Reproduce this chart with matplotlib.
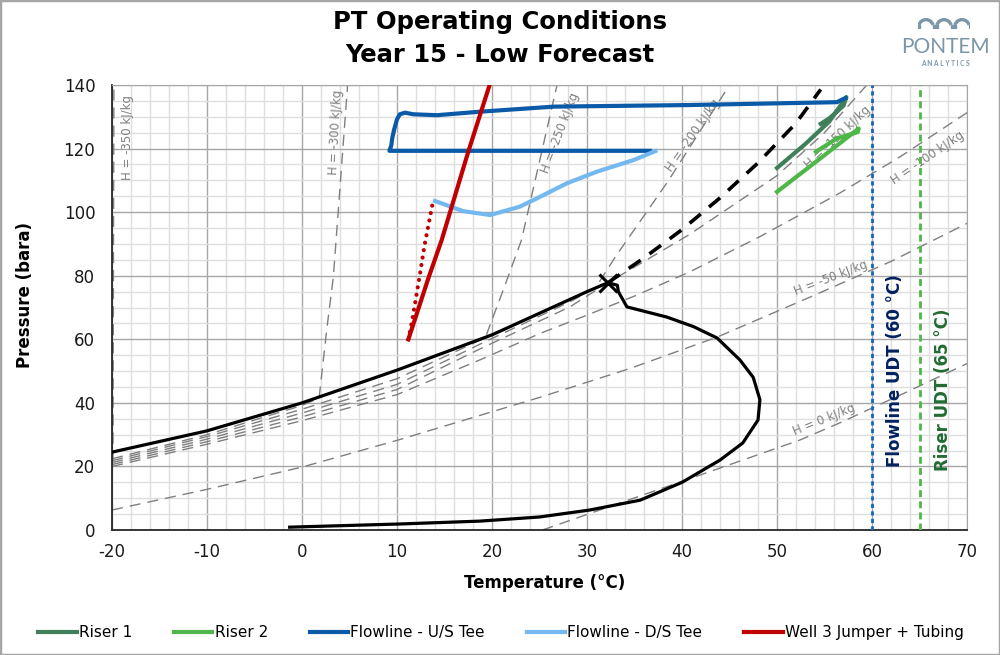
import numpy as np
import matplotlib
matplotlib.use("Agg")
import matplotlib.pyplot as plt
from matplotlib.patches import Rectangle, Arc
from matplotlib.ticker import MultipleLocator

# --------------------------------------------------
# data
# --------------------------------------------------
# phase envelope: bubble side -> critical point -> dew side
env_t = [-20, -10, 0, 10, 20, 30, 32.2, 33.2, 33.3, 34.2, 38.4, 41.2, 43.7,
         46.1, 47.5, 48.2, 48.0, 46.4, 44.0, 40.0, 35.6, 30.3, 25.0, 18.7,
         10.3, -1.3]
env_p = [24.5, 31.2, 40.0, 50.3, 61.4, 75.0, 77.8, 77.0, 75.0, 70.2, 67.0,
         64.0, 60.4, 53.5, 48.0, 41.0, 34.6, 27.4, 22.0, 15.0, 9.4, 6.3, 4.1,
         2.8, 1.9, 0.9]
crit_t, crit_p = 32.2, 77.8

# dense phase extension above the critical point
ext_t = [32.2, 36.0, 40.0, 44.0, 48.0, 52.0, 54.6]
ext_p = [77.8, 85.6, 94.5, 104.5, 115.5, 128.0, 138.6]

# isenthalps (kJ/kg)
h350_t = [-19.9, -19.85, -19.8]
h350_p = [21.5, 80.0, 140.0]
h300_t = [-20, -10, 0, 1.8, 2.6, 3.3, 4.8]
h300_p = [22.4, 30.0, 39.2, 41.5, 63.0, 79.6, 140.0]
h250_t = [-20, -10, 0, 10, 19.3, 21.7, 23.1, 26.8, 26.9]
h250_p = [21.8, 29.4, 38.0, 47.6, 60.5, 79.7, 91.2, 139.4, 141.0]
h200_t = [-20, -10, 0, 10, 19.1, 28.2, 30.9, 33.0, 38.5, 45.0]
h200_p = [21.2, 28.6, 36.8, 45.8, 59.0, 71.8, 76.2, 86.0, 109.6, 140.0]
h150_t = [-20, -10, 0, 10, 19.1, 28.2, 32.1, 40.8, 50.0, 55.0, 59.6]
h150_p = [20.6, 27.8, 35.6, 44.2, 57.5, 70.2, 77.6, 93.0, 111.5, 125.0, 140.5]
h100_t = [-20, -10, 0, 10, 19.1, 25.1, 30.0, 35.0, 40.8, 48.2, 56.6, 63.0, 70.1]
h100_p = [20.0, 27.0, 34.4, 42.6, 54.0, 61.9, 67.6, 73.6, 81.2, 92.3, 106.0, 117.5, 131.5]
h50_t = [-20, -10, 0, 10, 25.1, 34.5, 43.7, 53.5, 62.0, 70.1]
h50_p = [6.3, 12.8, 19.8, 28.2, 41.8, 50.8, 60.7, 73.3, 84.5, 96.6]
h0_t = [25.3, 39.8, 52.4, 56.6, 63.0, 70.1]
h0_p = [0.0, 15.1, 28.3, 33.7, 42.5, 52.5]

# isenthalp labels: text, T, P, rotation
h_labels = [
    ("H = -350 kJ/kg", -18.4, 123.6, 90),
    ("H = -300 kJ/kg", 3.5, 125.0, 87),
    ("H = -250 kJ/kg", 27.2, 125.0, 69),
    ("H = -200 kJ/kg", 41.2, 124.3, 55),
    ("H = -150 kJ/kg", 56.4, 123.6, 43),
    ("H = -100 kJ/kg", 65.9, 117.2, 34),
    ("H = -50 kJ/kg", 55.7, 79.2, 21),
    ("H = 0 kJ/kg", 55.0, 34.6, 22),
]

# operating points
riser1_t = [50.0, 53.0, 55.5, 57.3, 57.0, 55.5, 54.6]
riser1_p = [113.9, 121.5, 128.5, 136.2, 133.5, 129.5, 127.8]
riser2_t = [50.0, 54.9, 58.6, 58.5, 56.3, 54.1]
riser2_p = [106.4, 117.7, 126.3, 125.2, 123.2, 119.0]
flow_us_t = [57.2, 56.3, 40.8, 26.5, 18.7, 14.2, 11.7, 10.85, 10.3, 10.0,
             9.7, 9.5, 9.4, 9.2, 36.6]
flow_us_p = [135.9, 134.6, 133.7, 133.2, 131.6, 130.5, 130.8, 131.3, 130.8,
             129.2, 126.0, 123.3, 121.0, 119.3, 119.3]
flow_ds_t = [37.2, 34.9, 31.0, 27.9, 24.7, 22.9, 19.8, 17.0, 14.0]
flow_ds_p = [119.2, 116.4, 112.7, 109.1, 104.3, 101.7, 99.1, 100.3, 103.5]
well3_t = [11.2, 13.3, 14.7, 17.5, 19.8, 20.0]
well3_p = [60.0, 79.2, 91.2, 119.0, 140.5, 142.5]
well3_dot_t = [11.2, 11.6, 12.4, 12.9, 13.8]
well3_dot_p = [60.0, 66.0, 80.2, 89.6, 103.5]

flowline_udt = 60
riser_udt = 65

# --------------------------------------------------
# figure
# --------------------------------------------------
plt.rcParams["font.family"] = ["DejaVu Sans"]
plt.rcParams["axes.unicode_minus"] = False
fig = plt.figure(figsize=(10, 6.55), dpi=100)
ax = fig.add_axes([0.112, 0.1908, 0.855, 0.6794])

ax.set_xlim(-20, 70)
ax.set_ylim(0, 140)
ax.xaxis.set_major_locator(MultipleLocator(10))
ax.xaxis.set_minor_locator(MultipleLocator(2))
ax.yaxis.set_major_locator(MultipleLocator(20))
ax.yaxis.set_minor_locator(MultipleLocator(5))
ax.grid(which="major", color="#a6a6a6", lw=1.0, zorder=0)
ax.grid(which="minor", color="#dedede", lw=1.0, zorder=0)
ax.set_axisbelow(True)
ax.tick_params(which="both", length=0, labelsize=12, colors="#1a1a1a")
ax.tick_params(axis="y", pad=12)
ax.tick_params(axis="x", pad=9)
for side in ("top", "right"):
    ax.spines[side].set_color("#a6a6a6")
for side in ("left", "bottom"):
    ax.spines[side].set_color("#262626")
    ax.spines[side].set_linewidth(1.3)

# isenthalps
iso_kw = dict(color="#7f7f7f", lw=1.0, dashes=(8, 5), zorder=2)
for t, p in [(h350_t, h350_p), (h300_t, h300_p), (h250_t, h250_p),
             (h200_t, h200_p), (h150_t, h150_p), (h100_t, h100_p),
             (h50_t, h50_p), (h0_t, h0_p)]:
    ax.plot(t, p, **iso_kw)
for txt, t, p, rot in h_labels:
    ax.text(t, p, txt, rotation=rot, rotation_mode="anchor", ha="center",
            va="center", fontsize=8.5, color="#7f7f7f", zorder=3)

# envelope
ax.plot(env_t, env_p, color="black", lw=2.3, zorder=3)
ax.plot(ext_t, ext_p, color="black", lw=2.6, dashes=(4, 3), zorder=3)
ax.plot([crit_t], [crit_p], marker="x", color="black", ms=13, mew=2.2,
        zorder=4)

# UDT lines
ax.axvline(flowline_udt, color="#1565c0", lw=2.0, dashes=(1.5, 1.2), zorder=3)
ax.axvline(riser_udt, color="#4db848", lw=2.0, dashes=(2.5, 1.5), zorder=3)
ax.text(62.4, 50, "Flowline UDT (60 °C)", rotation=90, ha="center",
        va="center", fontsize=12, fontweight="bold", color="#002060")
ax.text(67.5, 44, "Riser UDT (65 °C)", rotation=90, ha="center",
        va="center", fontsize=12, fontweight="bold", color="#226b33")

# operating lines
ax.plot(well3_dot_t, well3_dot_p, color="#c00000", lw=3.0, ls=(0, (0.01, 1.8)),
        dash_capstyle="round", zorder=5)
l1, = ax.plot(riser1_t, riser1_p, color="#3f7f5a", lw=3, zorder=5,
              solid_joinstyle="round", label="Riser 1")
l2, = ax.plot(riser2_t, riser2_p, color="#4db848", lw=3, zorder=5,
              solid_joinstyle="round", label="Riser 2")
l3, = ax.plot(flow_us_t, flow_us_p, color="#0b5aa8", lw=3, zorder=5,
              solid_joinstyle="round", label="Flowline - U/S Tee")
l4, = ax.plot(flow_ds_t, flow_ds_p, color="#74b8f0", lw=3, zorder=5,
              solid_joinstyle="round", label="Flowline - D/S Tee")
l5, = ax.plot(well3_t, well3_p, color="#c00000", lw=3, zorder=5,
              label="Well 3 Jumper + Tubing")

# titles / labels
fig.text(0.5, 0.966, "PT Operating Conditions", ha="center", va="center",
         fontsize=17.5, fontweight="bold")
fig.text(0.5, 0.916, "Year 15 - Low Forecast", ha="center", va="center",
         fontsize=17.5, fontweight="bold")
fig.text(0.545, 0.110, "Temperature (°C)", ha="center", va="center",
         fontsize=12, fontweight="bold")
fig.text(0.025, 0.55, "Pressure (bara)", ha="center", va="center",
         rotation=90, fontsize=12, fontweight="bold")

leg = fig.legend(handles=[l1, l2, l3, l4, l5], loc="center",
                 bbox_to_anchor=(0.501, 0.034), ncol=5, frameon=False,
                 handlelength=2.5, handletextpad=0.15, columnspacing=2.75,
                 prop={"size": 11})

# logo
logo_c = "#7b96a8"
fig.text(0.945, 0.929, "PONTEM", ha="center", va="center", fontsize=15,
         color=logo_c, family=["Lato", "DejaVu Sans"])
fig.text(0.945, 0.903, "A N A L Y T I C S", ha="center", va="center",
         fontsize=4.8, color=logo_c, family=["Lato", "DejaVu Sans"],
         fontweight="bold")
lax = fig.add_axes([0.918, 0.955, 0.052, 0.018])
lax.set_xlim(0, 52)
lax.set_ylim(0, 12)
lax.axis("off")
for cx in (8, 26, 44):
    lax.add_patch(Arc((cx, 2), 15, 16, theta1=20, theta2=160,
                      color=logo_c, lw=2.4))
    lax.plot([cx - 7.5, cx - 7.5], [0, 4], color=logo_c, lw=2.4)
    lax.plot([cx + 7.5, cx + 7.5], [0, 4], color=logo_c, lw=2.4)

fig.patches.append(Rectangle((0, 0), 1, 1, transform=fig.transFigure,
                             fill=False, ec="#a6a6a6", lw=2.5))

fig.savefig("out.png", dpi=100)
